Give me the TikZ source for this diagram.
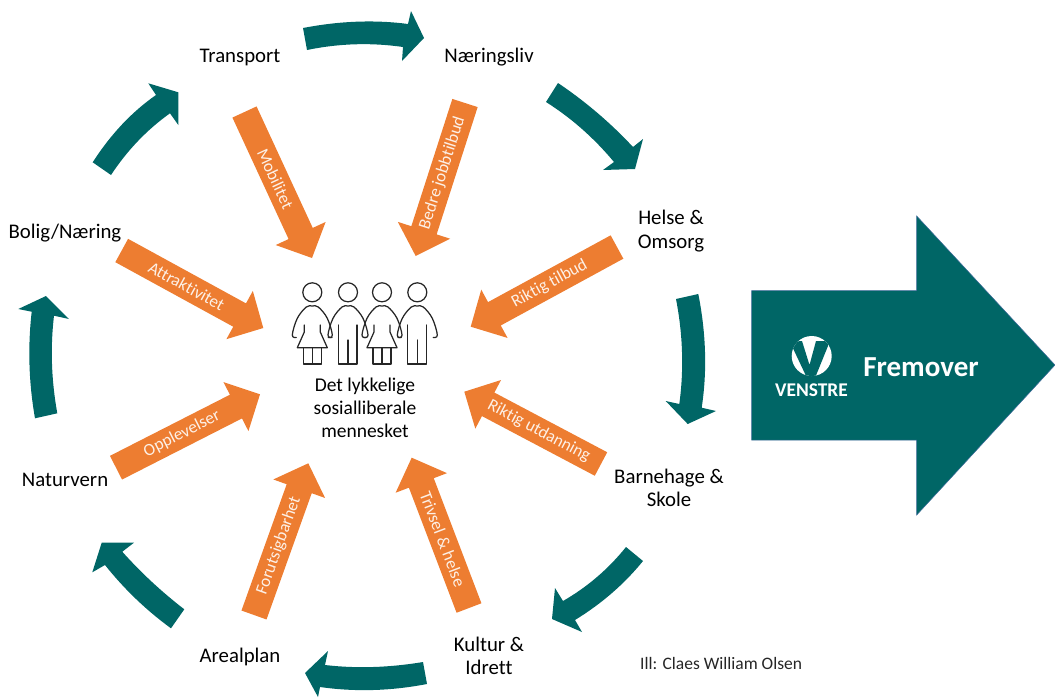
\documentclass[tikz,border=0pt]{standalone}
\usepackage{fontspec}
\setmainfont[RawFeature={-liga;-dlig;-clig}]{Carlito}
\usetikzlibrary{calc}
\definecolor{tealc}{HTML}{006666}
\definecolor{orangec}{HTML}{ED7D31}
\definecolor{arrowtxt}{HTML}{FDF0E6}
\definecolor{edgec}{HTML}{3F6A9A}
\tikzset{
  station/.style={inner sep=0pt,align=center,text=black,font=\fontsize{20.8}{23.5}\selectfont},
  flowlabel/.style={inner sep=0pt,text=arrowtxt,font=\fontsize{17.2}{20}\selectfont},
  tealfill/.style={fill=tealc,draw=none},
  orangefill/.style={fill=orangec,draw=none},
  figline/.style={draw=black!85,line width=1.25pt,line join=round,line cap=round},
}
% orange block arrow: name, tail centre, tip, label
\newcommand{\orangeblock}[4]{%
  \coordinate (#1t) at (#2);
  \coordinate (#1h) at (#3);
  \coordinate (#1n) at ($(#1h)!27pt!(#1t)$);
  \fill[orangefill] ($(#1t)!13.3pt!90:(#1h)$) -- ($(#1n)!13.3pt!90:(#1h)$) -- ($(#1n)!27.5pt!90:(#1h)$)
    -- (#1h) -- ($(#1n)!27.5pt!-90:(#1h)$) -- ($(#1n)!13.3pt!-90:(#1h)$) -- ($(#1t)!13.3pt!-90:(#1h)$) -- cycle;
  \path (#1t) -- (#1n) node[pos=.55,sloped,flowlabel] (#1l) {#4};
}
% curved teal arrow: edge 1 (start, through, end), barb, tip, barb, edge 2 (start, through, end)
\newcommand{\tealblock}[9]{%
  \fill[tealfill] (#1) .. controls ($1.3333*(#2)-0.3333*(#3)$) and ($1.3333*(#2)-0.3333*(#1)$) .. (#3)
    -- (#4) -- (#5) -- (#6) -- (#7)
    .. controls ($1.3333*(#8)-0.3333*(#9)$) and ($1.3333*(#8)-0.3333*(#7)$) .. (#9) -- cycle;
}
\newcommand{\figwoman}[1]{%
  \begin{scope}[shift={(#1,260)}]
    \draw[figline] (0,32.3) circle (9.5);
    \draw[figline] plot[smooth,tension=.6] coordinates {(-16,77.5)(-20,75)(-15,58.3)(-6,47)(0,46)(6,47)(15,58.3)(20,75)(16,77.5)};
    \draw[figline] (-8,65) -- (-8,72) -- (-15,87.7) -- (15,87.7) -- (8,72) -- (8,65);
    \draw[figline] (-9,87.7) -- (-9,104) -- (9,104) -- (9,87.7) (0,87.7) -- (0,104);
  \end{scope}}
\newcommand{\figman}[1]{%
  \begin{scope}[shift={(#1,260)}]
    \draw[figline] (0,32.3) circle (9.5);
    \draw[figline] plot[smooth,tension=.6] coordinates {(-16,77.5)(-20,75)(-15,58.3)(-6,47)(0,46)(6,47)(15,58.3)(20,75)(16,77.5)};
    \draw[figline] (-9.5,65) -- (-9.5,104) -- (9,104) -- (9,65) (0,80) -- (0,104);
  \end{scope}}
\begin{document}
\begin{tikzpicture}[x=1pt,y=-1pt]
\useasboundingbox (0,0) rectangle (1055,697);
% stations
\node[station] (transport) at (240,57) {Transport};
\node[station] (naering) at (489,57) {Næringsliv};
\node[station] (helse) at (671,231) {Helse \&\\Omsorg};
\node[station] (barnehage) at (669,488) {Barnehage \&\\Skole};
\node[station] (kultur) at (489,656) {Kultur \&\\Idrett};
\node[station] (areal) at (240,657) {Arealplan};
\node[station] (natur) at (65,480) {Naturvern};
\node[station] (bolig) at (65,233) {Bolig/Næring};
% ring arrows
\tealblock{303,28}{356.7,21.7}{408,24}{411,11}{424,38}{402,61}{403,47}{355,44.3}{307,50}
\tealblock{558,83}{597.5,113}{633,147}{643,139}{635,169}{603,170}{614,162}{582,129}{546,102}
\tealblock{698.3,294}{705,352}{701.7,407.7}{716,411}{687.7,424}{665.7,401}{679.3,404}{682,352}{676,299}
\tealblock{626,547}{597,577}{563,601}{555,588}{552,619}{582,632}{575,620}{612,593}{643,561}
\tealblock{423,662}{373,667}{325,665}{328,651}{305,673}{318,697}{320,687}{373,690}{427,684}
\tealblock{184.3,609.3}{151.7,581.7}{122.3,551.7}{134,542.7}{101.7,542.7}{92.3,572.3}{105,565}{136,599}{171,628.3}
\tealblock{57.3,413.3}{52,364}{54,315.7}{69,319}{46,296}{18.3,309}{31.7,311.7}{29.5,365}{35,418.3}
\tealblock{92.7,162.3}{122,124.5}{156,95}{148.3,83.3}{178.3,92.3}{178.3,125}{170,113.3}{138,141}{111,175}
% orange arrows
\orangeblock{mob}{244.5,112}{312,258}{Mobilitet}
\orangeblock{job}{465,103}{415.7,256}{Bedre jobbtilbud}
\orangeblock{til}{617,247}{470.7,326.7}{Riktig tilbud}
\orangeblock{att}{121.7,250.5}{263.3,328}{Attraktivitet}
\orangeblock{opp}{116,467.7}{260,394.3}{Opplevelser}
\orangeblock{for}{254,615}{308.3,463.3}{Forutsigbarhet}
\orangeblock{tri}{469,608}{411.7,457.7}{Trivsel \& helse}
\orangeblock{utd}{601,464}{464.3,391.7}{Riktig utdanning}
% people
\figwoman{312.3}
\figman{348}
\figwoman{382}
\figman{417.3}
\node[inner sep=0pt,align=center,text=black,font=\fontsize{19.5}{23}\selectfont] (people) at (365,408) {Det lykkelige\\sosialliberale\\mennesket};
% big arrow
\draw[fill=tealc,draw=edgec,line width=.5pt] (751.7,290.7) -- (916.7,290.7) -- (916.7,216) -- (1055,365) -- (916.7,515) -- (916.7,440) -- (751.7,440) -- cycle;
\fill[white] (811.7,356) circle (20);
\begin{scope}
  \clip (811.7,356) circle (20);
  \fill[tealc] (790,342) -- (802,341) -- (809.5,365) -- (816,341) -- (830,341) -- (815,378) -- (807,378) -- cycle;
\end{scope}
\node[inner sep=0pt,text=white,font=\fontsize{19.4}{21}\selectfont\bfseries] (venstre) at (811.5,390) {VENSTRE};
\node[inner sep=0pt,text=white,font=\fontsize{29}{32}\selectfont\bfseries] (fremover) at (921,367) {Fremover};
\node[inner sep=0pt,anchor=west,text=black!85,font=\fontsize{17.5}{20}\selectfont] (credit) at (640,663) {Ill: Claes William Olsen};
\end{tikzpicture}
\end{document}
